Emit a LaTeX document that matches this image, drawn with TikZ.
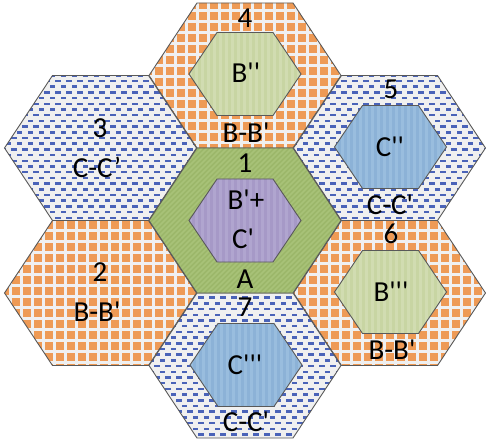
\documentclass[tikz,border=0pt]{standalone}
\usepackage{fontspec}
\setmainfont{Carlito}
\definecolor{bgc}{HTML}{F0F0F0}
\definecolor{orsq}{HTML}{EE9A55}
\definecolor{bldash}{HTML}{4A63B8}
\definecolor{cgreen}{HTML}{9CB76A}
\definecolor{cgreenst}{HTML}{A8C278}
\definecolor{lgreen}{HTML}{C8D5A3}
\definecolor{lgreenst}{HTML}{D1DCB1}
\definecolor{lpurple}{HTML}{A699C7}
\definecolor{lpurplest}{HTML}{B0A5CF}
\definecolor{lblue}{HTML}{8CB2D7}
\definecolor{lbluest}{HTML}{99BDDE}
\definecolor{hexline}{HTML}{595959}
\newcommand\sq{\textquotesingle}
% hexagon path: centre x, centre y, half width, half height
\newcommand\hexp[4]{({#1-#3},{#2}) -- ({#1-#3/2},{#2-#4}) -- ({#1+#3/2},{#2-#4}) -- ({#1+#3},{#2}) -- ({#1+#3/2},{#2+#4}) -- ({#1-#3/2},{#2+#4}) -- cycle}
\newcommand\orangehex[2]{%
  \begin{scope}
    \clip \hexp{#1}{#2}{96}{72.5};
    \fill[bgc] \hexp{#1}{#2}{96}{72.5};
    \pgfmathtruncatemacro\ia{(#1-96)/11-1}
    \pgfmathtruncatemacro\ib{(#1+96)/11+1}
    \pgfmathtruncatemacro\ja{(#2-73)/11-1}
    \pgfmathtruncatemacro\jb{(#2+73)/11+1}
    \foreach \i in {\ia,...,\ib}{\foreach \j in {\ja,...,\jb}{\fill[orsq] ({\i*11+1},{\j*11+1}) rectangle ++(8.3,8.3);}}
  \end{scope}
  \draw[hexl] \hexp{#1}{#2}{96}{72.5};}
\newcommand\bluehex[2]{%
  \begin{scope}
    \clip \hexp{#1}{#2}{96}{72.5};
    \fill[bgc] \hexp{#1}{#2}{96}{72.5};
    \pgfmathtruncatemacro\ia{(#1-96)/11-1}
    \pgfmathtruncatemacro\ib{(#1+96)/11+1}
    \pgfmathtruncatemacro\ja{(#2-73)/5.7-1}
    \pgfmathtruncatemacro\jb{(#2+73)/5.7+1}
    \foreach \j [evaluate=\j as \off using {mod(\j,2)*5.5}] in {\ja,...,\jb}{\foreach \i in {\ia,...,\ib}{\fill[bldash] ({\i*11+\off},{\j*5.7}) rectangle ++(5.5,2.5);}}
  \end{scope}
  \draw[hexl] \hexp{#1}{#2}{96}{72.5};}
% inner hexagon: centre, fill colour, stripe colour
\newcommand\innerhex[4]{%
  \begin{scope}
    \clip \hexp{#1}{#2}{56}{41.5};
    \fill[#3] \hexp{#1}{#2}{56}{41.5};
    \foreach \k in {0,...,19}{\fill[#4] ({#1-56+\k*6},{#2-42}) rectangle ++(3,84);}
  \end{scope}
  \draw[hexl] \hexp{#1}{#2}{56}{41.5};}
\tikzset{
  hexl/.style={draw=hexline, line width=0.9pt, line join=miter},
  lbl/.style={inner sep=0pt, text=black, font=\fontsize{29}{31}\selectfont},
}
\begin{document}
\begin{tikzpicture}[x=1pt,y=-1pt]
\useasboundingbox (0,0) rectangle (486,443);
% outer ring
\orangehex{245}{75.5}
\bluehex{100.5}{148}
\orangehex{100.5}{293}
\bluehex{389.5}{148}
\orangehex{389.5}{293}
\bluehex{245}{365.5}
% centre hexagon
\begin{scope}
  \clip \hexp{245}{220.5}{96}{72.5};
  \fill[cgreen] \hexp{245}{220.5}{96}{72.5};
  \foreach \k in {0,...,75}{\draw[cgreenst, line width=1.6pt] ({245-270+\k*5},{300}) -- ++(170,-170);}
\end{scope}
\draw[hexl] \hexp{245}{220.5}{96}{72.5};
% inner hexagons
\innerhex{245}{74}{lgreen}{lgreenst}
\innerhex{245}{220.5}{lpurple}{lpurplest}
\innerhex{390.5}{147}{lblue}{lbluest}
\innerhex{390.5}{292}{lgreen}{lgreenst}
\innerhex{246}{365}{lblue}{lbluest}
% labels
\node[lbl] (n4) at (245,18.5) {4};
\node[lbl] (i4) at (246,73) {B\sq\sq};
\node[lbl] (s4) at (246,133) {B-B\sq};
\node[lbl] (n1) at (245,163) {1};
\node[lbl] (i1a) at (246,200) {B\sq+};
\node[lbl] (i1b) at (243,239) {C\sq};
\node[lbl] (s1) at (245,279) {A};
\node[lbl] (n5) at (391,89) {5};
\node[lbl] (i5) at (390,147) {C\sq\sq};
\node[lbl] (s5) at (390,205) {C-C\sq};
\node[lbl] (n3) at (100,128) {3};
\node[lbl] (s3) at (97,167) {C-C’};
\node[lbl] (n2) at (100,272.5) {2};
\node[lbl] (s2) at (97,312) {B-B\sq};
\node[lbl] (n6) at (391,234) {6};
\node[lbl] (i6) at (391,292) {B\sq\sq\sq};
\node[lbl] (s6) at (392,350) {B-B\sq};
\node[lbl] (n7) at (245,307.5) {7};
\node[lbl] (i7) at (245,365) {C\sq\sq\sq};
\node[lbl] (s7) at (246,422) {C-C\sq};
\end{tikzpicture}
\end{document}
